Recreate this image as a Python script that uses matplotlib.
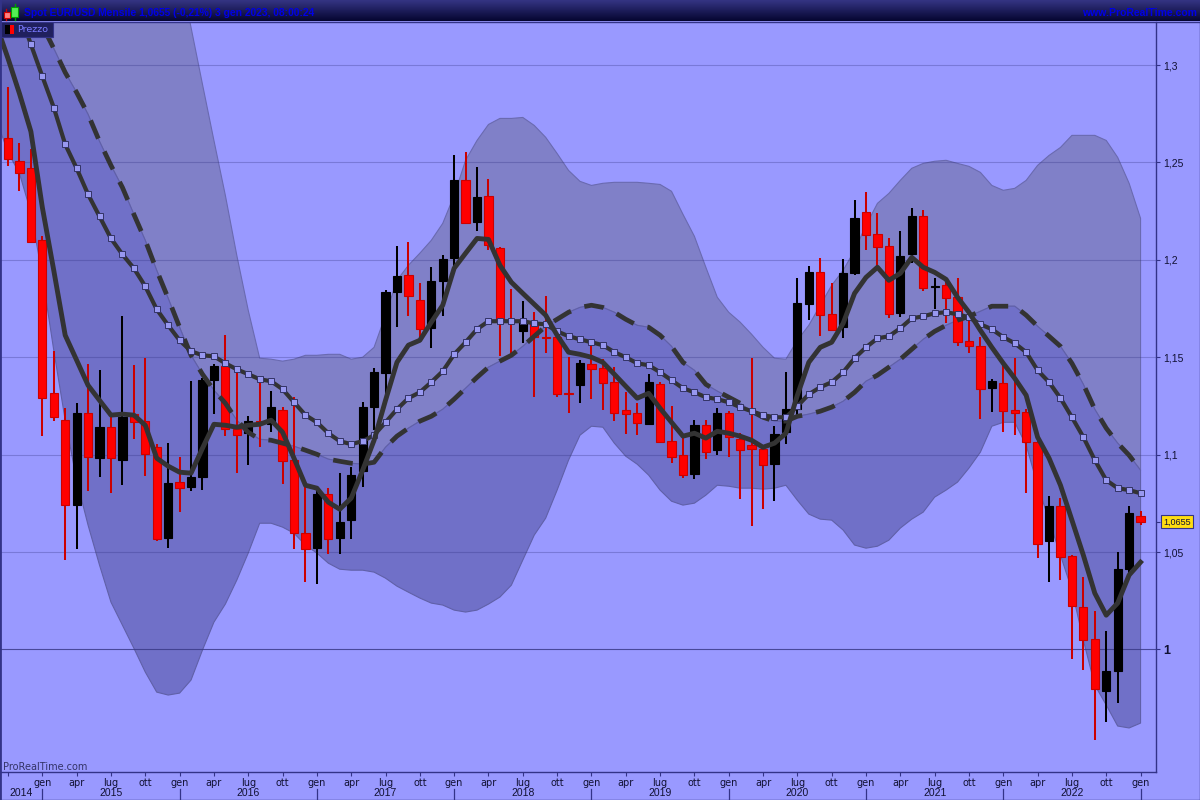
import numpy as np
import matplotlib.pyplot as plt
from matplotlib.patches import Rectangle

# monthly candles, Oct 2014 -> Jan 2023
opens = [1.2628, 1.2505, 1.2470, 1.2100, 1.1315, 1.1177, 1.0741, 1.1213, 1.0982, 1.1141,
         1.0972, 1.1208, 1.1172, 1.1038, 1.0571, 1.0859, 1.0833, 1.0884, 1.1382, 1.1454,
         1.1131, 1.1110, 1.1172, 1.1156, 1.1228, 1.0972, 1.0597, 1.0520, 1.0797, 1.0571,
         1.0664, 1.0915, 1.1244, 1.1418, 1.1834, 1.1921, 1.1792, 1.1649, 1.1890, 1.2008,
         1.2408, 1.2193, 1.2326, 1.2060, 1.1690, 1.1633, 1.1674, 1.1603, 1.1603, 1.1315,
         1.1356, 1.1464, 1.1444, 1.1372, 1.1228, 1.1213, 1.1156, 1.1361, 1.1069, 1.0997,
         1.0900, 1.1151, 1.1023, 1.1213, 1.1079, 1.1049, 1.1028, 1.0951, 1.1115, 1.1233,
         1.1772, 1.1936, 1.1721, 1.1654, 1.1931, 1.2244, 1.2131, 1.2069, 1.1726, 1.2028,
         1.2223, 1.1859, 1.1869, 1.1808, 1.1582, 1.1556, 1.1341, 1.1367, 1.1228, 1.1218,
         1.1064, 1.0556, 1.0736, 1.0479, 1.0217, 1.0053, 0.9787, 0.9889, 1.0412, 1.0684]
highs = [1.2886, 1.2598, 1.2567, 1.2120, 1.1531, 1.1238, 1.1264, 1.1464, 1.1433, 1.1192,
         1.1710, 1.1459, 1.1495, 1.1054, 1.1059, 1.0987, 1.1377, 1.1392, 1.1464, 1.1613,
         1.1433, 1.1197, 1.1367, 1.1326, 1.1244, 1.1295, 1.0833, 1.0818, 1.0828, 1.0905,
         1.0936, 1.1269, 1.1444, 1.1844, 1.2070, 1.2090, 1.1880, 1.1962, 1.2023, 1.2536,
         1.2552, 1.2475, 1.2413, 1.2065, 1.1849, 1.1787, 1.1731, 1.1813, 1.1638, 1.1500,
         1.1485, 1.1567, 1.1490, 1.1449, 1.1320, 1.1264, 1.1413, 1.1372, 1.1249, 1.1085,
         1.1177, 1.1177, 1.1238, 1.1223, 1.1110, 1.1495, 1.1033, 1.1146, 1.1423, 1.1905,
         1.1967, 1.2008, 1.1880, 1.2003, 1.2305, 1.2346, 1.2239, 1.2110, 1.2146, 1.2264,
         1.2254, 1.1905, 1.1885, 1.1905, 1.1705, 1.1603, 1.1387, 1.1485, 1.1495, 1.1233,
         1.1070, 1.0787, 1.0777, 1.0484, 1.0371, 1.0197, 1.0094, 1.0500, 1.0736, 1.0710]
lows = [1.2480, 1.2352, 1.2085, 1.1095, 1.1172, 1.0459, 1.0515, 1.0813, 1.0884, 1.0802,
        1.0843, 1.1079, 1.0889, 1.0556, 1.0520, 1.0705, 1.0813, 1.0818, 1.1208, 1.1095,
        1.0905, 1.0946, 1.1038, 1.1115, 1.0848, 1.0515, 1.0346, 1.0336, 1.0489, 1.0489,
        1.0566, 1.0833, 1.1125, 1.1290, 1.1654, 1.1710, 1.1597, 1.1546, 1.1710, 1.1957,
        1.2182, 1.2146, 1.2049, 1.1505, 1.1500, 1.1572, 1.1295, 1.1521, 1.1295, 1.1213,
        1.1264, 1.1285, 1.1228, 1.1172, 1.1105, 1.1100, 1.1151, 1.1059, 1.0956, 1.0879,
        1.0874, 1.0977, 1.0997, 1.0987, 1.0772, 1.0633, 1.0720, 1.0761, 1.1054, 1.1202,
        1.1690, 1.1608, 1.1633, 1.1597, 1.1921, 1.2049, 1.1962, 1.1700, 1.1705, 1.1982,
        1.1839, 1.1746, 1.1674, 1.1556, 1.1521, 1.1182, 1.1218, 1.1115, 1.1100, 1.0802,
        1.0469, 1.0346, 1.0356, 0.9951, 0.9894, 0.9535, 0.9628, 0.9725, 1.0381, 1.0640]
closes = [1.2516, 1.2444, 1.2090, 1.1290, 1.1192, 1.0741, 1.1213, 1.0987, 1.1141, 1.0982,
          1.1192, 1.1167, 1.1002, 1.0566, 1.0854, 1.0828, 1.0884, 1.1382, 1.1454, 1.1131,
          1.1100, 1.1172, 1.1156, 1.1244, 1.0966, 1.0597, 1.0515, 1.0797, 1.0566, 1.0654,
          1.0895, 1.1244, 1.1423, 1.1834, 1.1916, 1.1813, 1.1644, 1.1890, 1.2003, 1.2408,
          1.2187, 1.2321, 1.2075, 1.1690, 1.1684, 1.1690, 1.1603, 1.1598, 1.1310, 1.1310,
          1.1469, 1.1438, 1.1367, 1.1213, 1.1208, 1.1161, 1.1372, 1.1064, 1.0987, 1.0895,
          1.1151, 1.1013, 1.1213, 1.1090, 1.1023, 1.1028, 1.0946, 1.1105, 1.1233, 1.1777,
          1.1936, 1.1716, 1.1638, 1.1931, 1.2213, 1.2126, 1.2064, 1.1721, 1.2018, 1.2223,
          1.1854, 1.1864, 1.1803, 1.1577, 1.1556, 1.1336, 1.1377, 1.1223, 1.1213, 1.1064,
          1.0541, 1.0736, 1.0474, 1.0223, 1.0048, 0.9797, 0.9889, 1.0412, 1.0700, 1.0655]

# overlays start one month earlier (Sep 2014) so they run off the left edge
ma_fast = [1.3203, 1.3034, 1.2854, 1.2659, 1.2270, 1.1946, 1.1613, 1.1485, 1.1356, 1.1279, 1.1203,
           1.1208, 1.1203, 1.1151, 1.0982, 1.0941, 1.0910, 1.0905, 1.1033, 1.1156, 1.1151,
           1.1141, 1.1151, 1.1156, 1.1177, 1.1115, 1.0982, 1.0843, 1.0828, 1.0756, 1.0720,
           1.0777, 1.0920, 1.1074, 1.1279, 1.1474, 1.1562, 1.1587, 1.1680, 1.1767, 1.1957,
           1.2034, 1.2110, 1.2105, 1.1972, 1.1885, 1.1828, 1.1772, 1.1716, 1.1613, 1.1526,
           1.1515, 1.1500, 1.1474, 1.1413, 1.1351, 1.1290, 1.1315, 1.1238, 1.1166, 1.1095,
           1.1110, 1.1085, 1.1120, 1.1110, 1.1095, 1.1074, 1.1038, 1.1059, 1.1110, 1.1305,
           1.1474, 1.1551, 1.1577, 1.1674, 1.1828, 1.1910, 1.1962, 1.1895, 1.1931, 1.2013,
           1.1962, 1.1936, 1.1900, 1.1808, 1.1731, 1.1638, 1.1551, 1.1469, 1.1392, 1.1305,
           1.1090, 1.0982, 1.0843, 1.0664, 1.0484, 1.0289, 1.0176, 1.0238, 1.0382, 1.0448]
ma_mid = [1.3700, 1.3485, 1.3275, 1.3106, 1.2942, 1.2782, 1.2593, 1.2470, 1.2336, 1.2223, 1.2110,
          1.2028, 1.1957, 1.1864, 1.1746, 1.1664, 1.1587, 1.1531, 1.1510, 1.1505, 1.1469,
          1.1438, 1.1413, 1.1387, 1.1377, 1.1336, 1.1269, 1.1203, 1.1166, 1.1110, 1.1069,
          1.1054, 1.1069, 1.1100, 1.1166, 1.1233, 1.1290, 1.1320, 1.1372, 1.1428, 1.1515,
          1.1577, 1.1644, 1.1685, 1.1685, 1.1685, 1.1685, 1.1674, 1.1669, 1.1633, 1.1608,
          1.1592, 1.1577, 1.1562, 1.1526, 1.1500, 1.1469, 1.1459, 1.1423, 1.1382, 1.1341,
          1.1320, 1.1295, 1.1285, 1.1269, 1.1244, 1.1223, 1.1203, 1.1192, 1.1192, 1.1249,
          1.1310, 1.1346, 1.1372, 1.1423, 1.1495, 1.1551, 1.1597, 1.1608, 1.1649, 1.1700,
          1.1710, 1.1726, 1.1731, 1.1721, 1.1705, 1.1669, 1.1644, 1.1603, 1.1572, 1.1526,
          1.1433, 1.1372, 1.1290, 1.1192, 1.1090, 1.0972, 1.0869, 1.0828, 1.0818, 1.0802]
ma_slow = [1.3760, 1.3614, 1.3460, 1.3321, 1.3203, 1.3085, 1.2962, 1.2859, 1.2747, 1.2608, 1.2485,
           1.2372, 1.2234, 1.2100, 1.1946, 1.1803, 1.1654, 1.1510, 1.1413, 1.1331, 1.1264,
           1.1177, 1.1115, 1.1079, 1.1074, 1.1059, 1.1043, 1.1023, 1.1002, 1.0977, 1.0966,
           1.0956, 1.0951, 1.0961, 1.1038, 1.1095, 1.1136, 1.1172, 1.1197, 1.1233, 1.1285,
           1.1341, 1.1397, 1.1449, 1.1480, 1.1510, 1.1556, 1.1608, 1.1659, 1.1695, 1.1731,
           1.1756, 1.1767, 1.1756, 1.1731, 1.1695, 1.1664, 1.1654, 1.1613, 1.1556, 1.1474,
           1.1433, 1.1361, 1.1326, 1.1295, 1.1264, 1.1223, 1.1192, 1.1172, 1.1172, 1.1197,
           1.1208, 1.1223, 1.1244, 1.1274, 1.1320, 1.1377, 1.1408, 1.1449, 1.1490, 1.1541,
           1.1592, 1.1633, 1.1664, 1.1690, 1.1710, 1.1736, 1.1762, 1.1762, 1.1762, 1.1716,
           1.1659, 1.1608, 1.1556, 1.1469, 1.1361, 1.1233, 1.1136, 1.1059, 1.0997, 1.0920]
band_up = [1.6400, 1.6200, 1.6000, 1.5800, 1.5600, 1.5400, 1.5200, 1.5000, 1.4800, 1.4600, 1.4400,
           1.4200, 1.4000, 1.3850, 1.3700, 1.3600, 1.3485, 1.3193, 1.2901, 1.2613, 1.2331,
           1.2023, 1.1741, 1.1495, 1.1490, 1.1480, 1.1490, 1.1510, 1.1510, 1.1515, 1.1515,
           1.1490, 1.1500, 1.1551, 1.1716, 1.1895, 1.1972, 1.2034, 1.2100, 1.2187, 1.2331,
           1.2511, 1.2613, 1.2695, 1.2726, 1.2726, 1.2731, 1.2690, 1.2629, 1.2546, 1.2459,
           1.2403, 1.2382, 1.2393, 1.2398, 1.2398, 1.2398, 1.2393, 1.2387, 1.2352, 1.2234,
           1.2121, 1.1962, 1.1808, 1.1731, 1.1680, 1.1618, 1.1551, 1.1495, 1.1490, 1.1587,
           1.1664, 1.1767, 1.1869, 1.1946, 1.2049, 1.2177, 1.2290, 1.2341, 1.2408, 1.2470,
           1.2495, 1.2506, 1.2511, 1.2495, 1.2480, 1.2449, 1.2382, 1.2357, 1.2367, 1.2408,
           1.2485, 1.2536, 1.2577, 1.2639, 1.2639, 1.2639, 1.2613, 1.2526, 1.2393, 1.2213]
band_low = [1.2716, 1.2552, 1.2444, 1.2244, 1.1921, 1.1536, 1.1177, 1.0869, 1.0638, 1.0433, 1.0243,
            1.0125, 1.0007, 0.9884, 0.9781, 0.9766, 0.9776, 0.9843, 0.9997, 1.0140, 1.0233,
            1.0356, 1.0495, 1.0648, 1.0648, 1.0628, 1.0597, 1.0536, 1.0495, 1.0443, 1.0412,
            1.0407, 1.0407, 1.0397, 1.0366, 1.0325, 1.0294, 1.0264, 1.0238, 1.0228, 1.0202,
            1.0192, 1.0202, 1.0233, 1.0269, 1.0330, 1.0459, 1.0587, 1.0674, 1.0818, 1.0972,
            1.1100, 1.1146, 1.1141, 1.1059, 1.0992, 1.0951, 1.0895, 1.0818, 1.0761, 1.0741,
            1.0751, 1.0792, 1.0843, 1.0838, 1.0828, 1.0828, 1.0823, 1.0828, 1.0843, 1.0766,
            1.0695, 1.0669, 1.0664, 1.0613, 1.0536, 1.0520, 1.0530, 1.0561, 1.0623, 1.0669,
            1.0705, 1.0782, 1.0818, 1.0859, 1.0931, 1.1013, 1.1146, 1.1166, 1.1166, 1.1049,
            1.0843, 1.0664, 1.0484, 1.0305, 1.0048, 0.9817, 0.9715, 0.9607, 0.9597, 0.9622]

month_names = ['gen', 'apr', 'lug', 'ott']
years = [2014, 2015, 2016, 2017, 2018, 2019, 2020, 2021, 2022]
price_ticks = [1.0, 1.05, 1.1, 1.15, 1.2, 1.25, 1.3]
last_price = 1.0655

BG = '#9999ff'
NAVY = '#333388'
TEXT_FONT = 'DejaVu Sans'
NUM_FONT = 'Liberation Sans'


def px_axes(fig):
    # overlay in screen pixels, only for the window frame around the chart
    ov = fig.add_axes([0, 0, 1, 1], zorder=10)
    ov.patch.set_alpha(0)
    ov.axis('off')
    return ov


def main():
    fig = plt.figure(figsize=(12, 8), dpi=100, facecolor=BG)
    ax = fig.add_axes([1 / 1200, 28 / 800, 1155 / 1200, 750 / 800], facecolor=BG)

    xc = np.arange(len(opens))
    xo = np.arange(-1, len(opens))
    ax.set_xlim(-0.612, 100.35)
    ax.set_ylim(0.9371, 1.3221)

    # shaded bands either side of the slow average
    ax.fill_between(xo, ma_slow, band_up, facecolor='#8080c8', edgecolor='#6a6ab0', lw=0.8, zorder=1)
    ax.fill_between(xo, band_low, ma_slow, facecolor='#7070c8', edgecolor='#6060a8', lw=0.8, zorder=1.1)

    for p in price_ticks:
        if p == 1.0:
            ax.axhline(p, color='#3a3a88', lw=0.8, alpha=0.85, zorder=2)
        else:
            ax.axhline(p, color='#303080', lw=0.8, alpha=0.3, zorder=2)

    # candles
    for i in xc:
        up = closes[i] > opens[i]
        wick = 'black' if up else '#cc0000'
        body = 'black' if up else '#ff0000'
        ax.vlines(i, lows[i], highs[i], color=wick, lw=1.45, zorder=3)
        ax.bar(i, abs(closes[i] - opens[i]), bottom=min(opens[i], closes[i]), width=0.72,
               facecolor=body, edgecolor=wick, lw=0.8, zorder=4)

    # moving averages
    ax.plot(xo, ma_slow, color='#333333', lw=3.4, dashes=(4.2, 3.0), dash_capstyle='butt', zorder=5)
    ax.plot(xo, ma_mid, color='#333333', lw=3.0, zorder=6)
    ax.plot(xo, ma_mid, ls='none', marker='s', ms=3.9, mfc='#9898f0', mec='#333366', mew=0.7, zorder=6.5)
    ax.plot(xo, ma_fast, color='#333333', lw=3.5, zorder=7)

    # axes frame
    for side in ['top', 'left']:
        ax.spines[side].set_visible(False)
    for side in ['right', 'bottom']:
        ax.spines[side].set_color(NAVY)
        ax.spines[side].set_linewidth(1)

    ax.yaxis.tick_right()
    ax.set_yticks(price_ticks + [last_price])
    ax.set_yticklabels([('%.2f' % p).rstrip('0').rstrip('.').replace('.', ',') for p in price_ticks] + [''])
    ax.tick_params(axis='y', length=3, width=0.8, color=NAVY, pad=2, labelsize=7.5, labelcolor='#111133')
    for lab in ax.get_yticklabels():
        lab.set_fontfamily(NUM_FONT)
        if lab.get_text() == '1':
            lab.set_fontweight('bold')
            lab.set_fontsize(9)

    ticks = xc[::3]
    labels = [''] + [month_names[k % 4] for k in range(len(ticks) - 1)]
    ax.set_xticks(ticks)
    ax.set_xticklabels(labels)
    ax.tick_params(axis='x', length=3, width=0.8, color=NAVY, pad=1.2, labelsize=7, labelcolor='#111133')
    for lab in ax.get_xticklabels():
        lab.set_fontfamily(TEXT_FONT)

    # year row under the months
    trans = ax.get_xaxis_transform()
    for j, yr in enumerate(years):
        jan = 3 + 12 * (j - 1)
        centre = 1.1 if j == 0 else jan + 6
        ax.text(centre, -20.5 / 750, str(yr), transform=trans, ha='center', va='center',
                fontsize=7.5, family=NUM_FONT, color='#111133')
        if j > 0:
            ax.plot([jan, jan], [-17 / 750, -27 / 750], transform=trans, color=NAVY, lw=0.9, clip_on=False)
    ax.plot([99, 99], [-17 / 750, -27 / 750], transform=trans, color=NAVY, lw=0.9, clip_on=False)

    ax.text(0.0018, 0.0, 'ProRealTime.com', transform=ax.transAxes, fontsize=7, family=TEXT_FONT,
            color='#333366', va='bottom', ha='left', zorder=8)

    # current price tag
    ax.annotate('1,0655', xy=(1, last_price), xycoords=('axes fraction', 'data'), xytext=(5, 0),
                textcoords='offset points', va='center', ha='left', fontsize=6.5, family=NUM_FONT,
                color='#111133', annotation_clip=False,
                bbox=dict(boxstyle='square,pad=0.22', fc='#ffdd11', ec=NAVY, lw=0.8))

    # window frame: header strip, icons, legend chip
    ov = px_axes(fig)
    ramp = np.linspace(0, 1, 22).reshape(-1, 1, 1)
    ov.imshow((ramp * np.array([[[6, 6, 50]]]) + (1 - ramp) * np.array([[[52, 52, 130]]])) / 255,
              extent=[0, 1200, 21, 0], aspect='auto', zorder=1)
    ov.set_xlim(0, 1200)
    ov.set_ylim(800, 0)
    ov.plot([0, 1200], [21.5, 21.5], color=NAVY, lw=1)
    ov.plot([0, 0], [0, 800], color=NAVY, lw=2)
    ov.plot([1199.5, 1199.5], [22, 800], color=NAVY, lw=1)
    ov.plot([0, 1200], [799.5, 799.5], color=NAVY, lw=1)

    ov.plot([6, 6], [9, 20], color='#cc0000', lw=1)
    ov.add_patch(Rectangle((3.5, 12), 6, 5.5, fc='#ff8080', ec='#cc0000', lw=0.8, zorder=3))
    ov.plot([14.5, 14.5], [4, 20], color='#00a000', lw=1)
    ov.add_patch(Rectangle((11, 7), 6.5, 9.5, fc='#55ee55', ec='#00a000', lw=0.8, zorder=3))

    ov.text(24, 12.5, 'Spot EUR/USD Mensile 1,0655 (-0,21%) 3 gen 2023, 08:00:24', color='#0000e6',
            fontsize=7.4, family=NUM_FONT, weight='bold', va='center', ha='left')
    ov.text(1197, 12.5, 'www.ProRealTime.com', color='#0000e6', fontsize=7.5, family=NUM_FONT,
            weight='bold', va='center', ha='right')

    ov.add_patch(Rectangle((1, 22), 51.5, 15, fc='#20205e', ec=NAVY, lw=0.8, zorder=3))
    ov.add_patch(Rectangle((5, 25), 5, 9, fc='black', ec='none', zorder=4))
    ov.add_patch(Rectangle((10, 25), 4, 9, fc='#ff0000', ec='none', zorder=4))
    ov.text(17.5, 30, 'Prezzo', color='#7a7aff', fontsize=6.8, family=TEXT_FONT, va='center', ha='left', zorder=4)

    outpath = 'out.png'
    fig.savefig(outpath, dpi=100, facecolor=BG)
    print(f"Saved: {outpath}")


if __name__ == "__main__":
    main()
